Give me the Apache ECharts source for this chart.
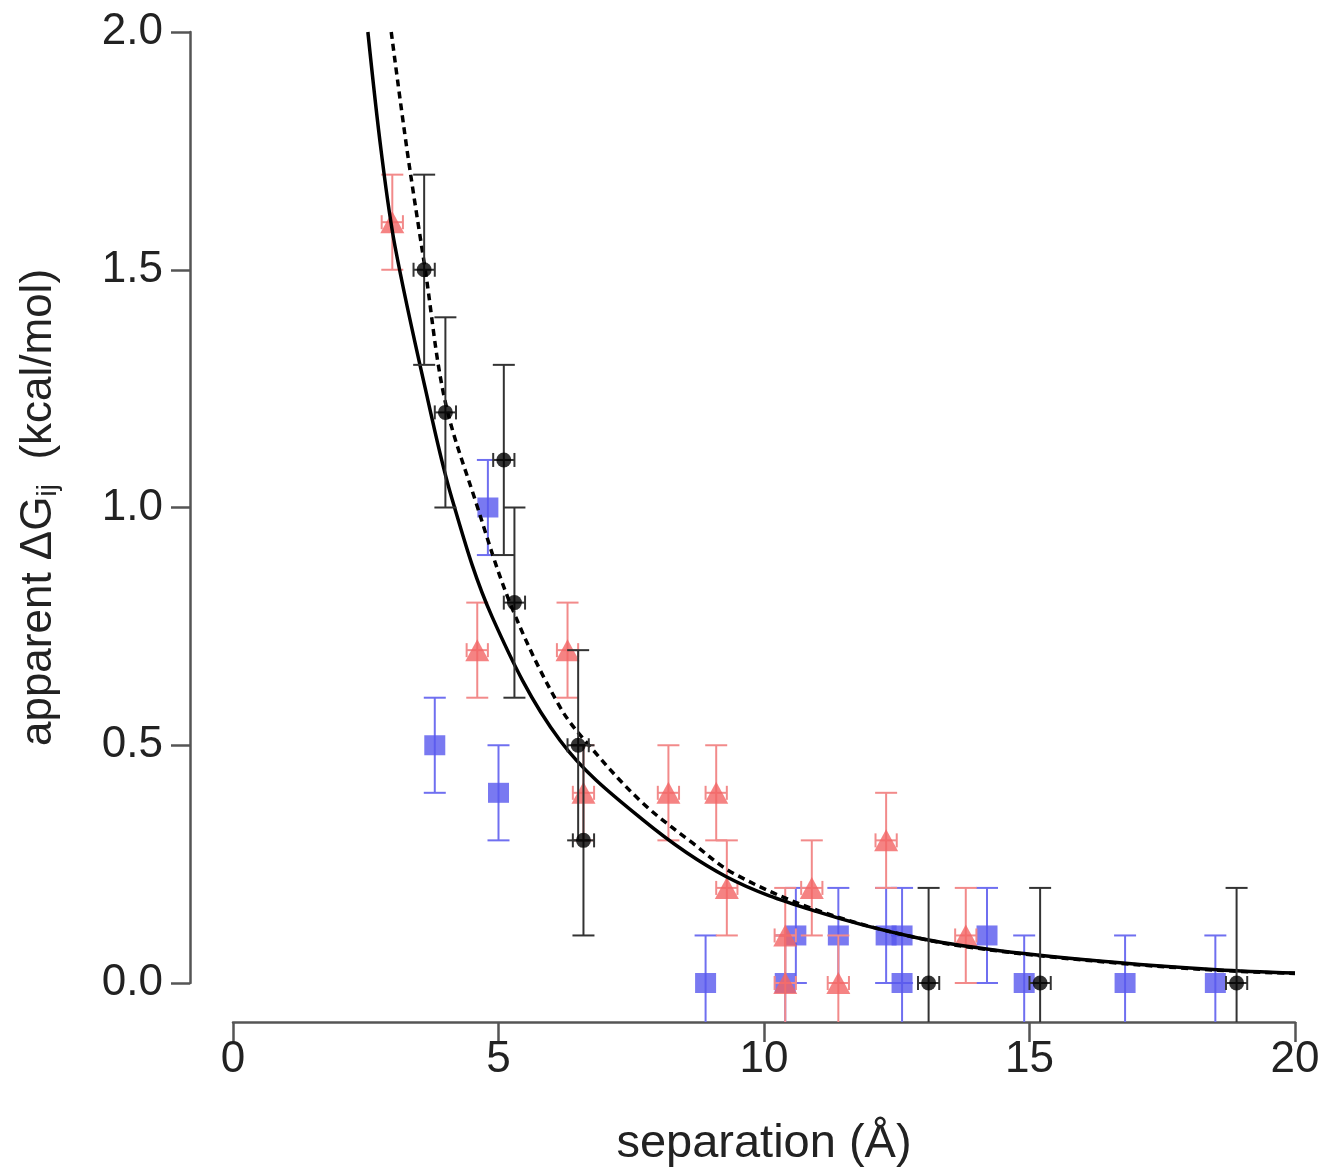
<!DOCTYPE html>
<html>
<head>
<meta charset="utf-8">
<script src="https://cdn.jsdelivr.net/npm/echarts@6/dist/echarts.min.js"></script>
<style>
  html, body { margin: 0; padding: 0; background: #fff; }
  #chart { width: 1324px; height: 1174px; }
</style>
</head>
<body>
<div id="chart"></div>
<script>
// separation (Å) / apparent dG values
var blackX = [3.6, 4.0, 5.1, 5.3, 6.5, 6.6, 13.1, 15.2, 18.9];
var blackY = [1.5, 1.2, 1.1, 0.8, 0.5, 0.3, 0.0, 0.0, 0.0];
var blackErrY = [0.2, 0.2, 0.2, 0.2, 0.2, 0.2, 0.2, 0.2, 0.2];
var blackErrX = [0.2, 0.2, 0.2, 0.2, 0.2, 0.2, 0.2, 0.2, 0.2];

var redX = [3.0, 4.6, 6.3, 6.6, 8.2, 9.1, 9.3, 10.4, 10.4, 10.9, 11.4, 12.3, 13.8];
var redY = [1.6, 0.7, 0.7, 0.4, 0.4, 0.4, 0.2, 0.1, 0.0, 0.2, 0.0, 0.3, 0.1];
var redErrY = [0.1, 0.1, 0.1, 0.1, 0.1, 0.1, 0.1, 0.1, 0.1, 0.1, 0.1, 0.1, 0.1];
var redErrX = [0.2, 0.2, 0.2, 0.2, 0.2, 0.2, 0.2, 0.2, 0.2, 0.2, 0.2, 0.2, 0.2];

var blueX = [3.8, 4.8, 5.0, 8.9, 10.4, 10.6, 11.4, 12.3, 12.6, 12.6, 14.2, 14.9, 16.8, 18.5];
var blueY = [0.5, 1.0, 0.4, 0.0, 0.0, 0.1, 0.1, 0.1, 0.1, 0.0, 0.1, 0.0, 0.0, 0.0];
var blueErrY = [0.1, 0.1, 0.1, 0.1, 0.1, 0.1, 0.1, 0.1, 0.1, 0.1, 0.1, 0.1, 0.1, 0.1];

// fitted curves
var solidX = [2.54, 2.79, 3.05, 3.67, 4.12, 4.88, 6.16, 7.72, 9.3, 11.0, 12.88, 14.44, 16.65, 18.53, 20.0];
var solidY = [2.0, 1.75, 1.55, 1.226, 1.02, 0.77, 0.51, 0.343, 0.223, 0.15, 0.095, 0.068, 0.043, 0.028, 0.021];
var dashX = [2.98, 3.28, 3.62, 3.99, 4.56, 5.25, 6.16, 6.78, 7.72, 8.66, 9.42, 11.0, 12.88, 14.44, 16.65, 18.53, 20.0];
var dashY = [2.0, 1.75, 1.5, 1.226, 1.016, 0.79, 0.58, 0.49, 0.378, 0.294, 0.231, 0.153, 0.095, 0.067, 0.042, 0.027, 0.02];

var xTicks = [0, 5, 10, 15, 20];
var yTicks = [0.0, 0.5, 1.0, 1.5, 2.0];

var FONT = '"Liberation Sans", Arial, Helvetica, sans-serif';

function zip() {
  var arrs = Array.prototype.slice.call(arguments);
  return arrs[0].map(function (_, i) {
    return arrs.map(function (a) { return a ? a[i] : 0; });
  });
}

function errorBars(color, cap) {
  return function (params, api) {
    var x = api.value(0), y = api.value(1), ey = api.value(2), ex = api.value(3);
    var top = api.coord([x, y + ey]);
    var bot = api.coord([x, y - ey]);
    var st = { stroke: color, lineWidth: 2 };
    var kids = [
      { type: 'line', shape: { x1: top[0], y1: top[1], x2: bot[0], y2: bot[1] }, style: st },
      { type: 'line', shape: { x1: top[0] - cap, y1: top[1], x2: top[0] + cap, y2: top[1] }, style: st },
      { type: 'line', shape: { x1: bot[0] - cap, y1: bot[1], x2: bot[0] + cap, y2: bot[1] }, style: st }
    ];
    if (ex > 0) {
      var l = api.coord([x - ex, y]);
      var r = api.coord([x + ex, y]);
      kids.push({ type: 'line', shape: { x1: l[0], y1: l[1], x2: r[0], y2: r[1] }, style: st });
      kids.push({ type: 'line', shape: { x1: l[0], y1: l[1] - 7, x2: l[0], y2: l[1] + 7 }, style: st });
      kids.push({ type: 'line', shape: { x1: r[0], y1: r[1] - 7, x2: r[0], y2: r[1] + 7 }, style: st });
    }
    return { type: 'group', children: kids };
  };
}

var myChart = echarts.init(document.getElementById('chart'));
var option = {
  backgroundColor: '#fff',
  animation: false,
  grid: [
    { left: 233, right: 29, top: 32, bottom: 152 },
    { left: 190, right: 29, top: 32, bottom: 191 }
  ],
  xAxis: [{
    gridIndex: 0, type: 'value', min: 0, max: 20, interval: 5,
    axisLine: { onZero: false, lineStyle: { color: '#555', width: 2.5 } },
    axisTick: { length: 20, lineStyle: { color: '#555', width: 2.5 } },
    axisLabel: {
      fontSize: 44, fontFamily: FONT, color: '#222', margin: 16,
      customValues: xTicks
    },
    splitLine: { show: false },
    name: 'separation (Å)', nameLocation: 'middle', nameGap: 99,
    nameTextStyle: { fontSize: 47, fontFamily: FONT, color: '#222' }
  }, {
    gridIndex: 1, type: 'value', min: 0, max: 20, show: false
  }],
  yAxis: [{
    gridIndex: 0, type: 'value', min: -0.082, max: 2.0, show: false
  }, {
    gridIndex: 1, type: 'value', min: 0, max: 2.0, interval: 0.5,
    axisLine: { show: true, lineStyle: { color: '#555', width: 2.5 } },
    axisTick: { show: true, length: 19, lineStyle: { color: '#555', width: 2.5 } },
    axisLabel: {
      fontSize: 44, fontFamily: FONT, color: '#222', margin: 27,
      customValues: yTicks,
      formatter: function (v) { return v.toFixed(1); }
    },
    splitLine: { show: false },
    name: 'apparent ΔG{sub|ij}  (kcal/mol)', nameLocation: 'middle', nameGap: 128,
    nameTextStyle: {
      fontSize: 44, fontFamily: FONT, color: '#222', lineHeight: 46,
      rich: { sub: { fontSize: 28, fontFamily: FONT, color: '#222', lineHeight: 46, verticalAlign: 'bottom', padding: [22, 0, 0, 0] } }
    }
  }],
  series: [
    {
      type: 'custom', xAxisIndex: 0, yAxisIndex: 0, clip: true,
      renderItem: errorBars('#6f6ff0', 11),
      data: zip(blueX, blueY, blueErrY, null), z: 2
    },
    {
      type: 'scatter', xAxisIndex: 0, yAxisIndex: 0, symbol: 'rect', symbolSize: [21, 20],
      itemStyle: { color: '#5858ee' },
      data: zip(blueX, blueY), z: 3
    },
    {
      type: 'custom', xAxisIndex: 0, yAxisIndex: 0, clip: true,
      renderItem: errorBars('#f28a8a', 11),
      data: zip(redX, redY, redErrY, redErrX), z: 4
    },
    {
      type: 'scatter', xAxisIndex: 0, yAxisIndex: 0, symbol: 'triangle', symbolSize: [24, 22],
      itemStyle: { color: '#f26464' },
      data: zip(redX, redY), z: 5
    },
    {
      type: 'line', xAxisIndex: 0, yAxisIndex: 0, showSymbol: false, smooth: 0.35,
      lineStyle: { color: '#000', width: 3.5 },
      data: zip(solidX, solidY), z: 6
    },
    {
      type: 'line', xAxisIndex: 0, yAxisIndex: 0, showSymbol: false, smooth: 0.35,
      lineStyle: { color: '#000', width: 3.5, type: [7, 5] },
      data: zip(dashX, dashY), z: 6
    },
    {
      type: 'custom', xAxisIndex: 0, yAxisIndex: 0, clip: true,
      renderItem: errorBars('#333', 11),
      data: zip(blackX, blackY, blackErrY, blackErrX), z: 7
    },
    {
      type: 'scatter', xAxisIndex: 0, yAxisIndex: 0, symbol: 'circle', symbolSize: 15,
      itemStyle: { color: '#000' },
      data: zip(blackX, blackY), z: 8
    }
  ]
};
myChart.setOption(option);
</script>
</body>
</html>
